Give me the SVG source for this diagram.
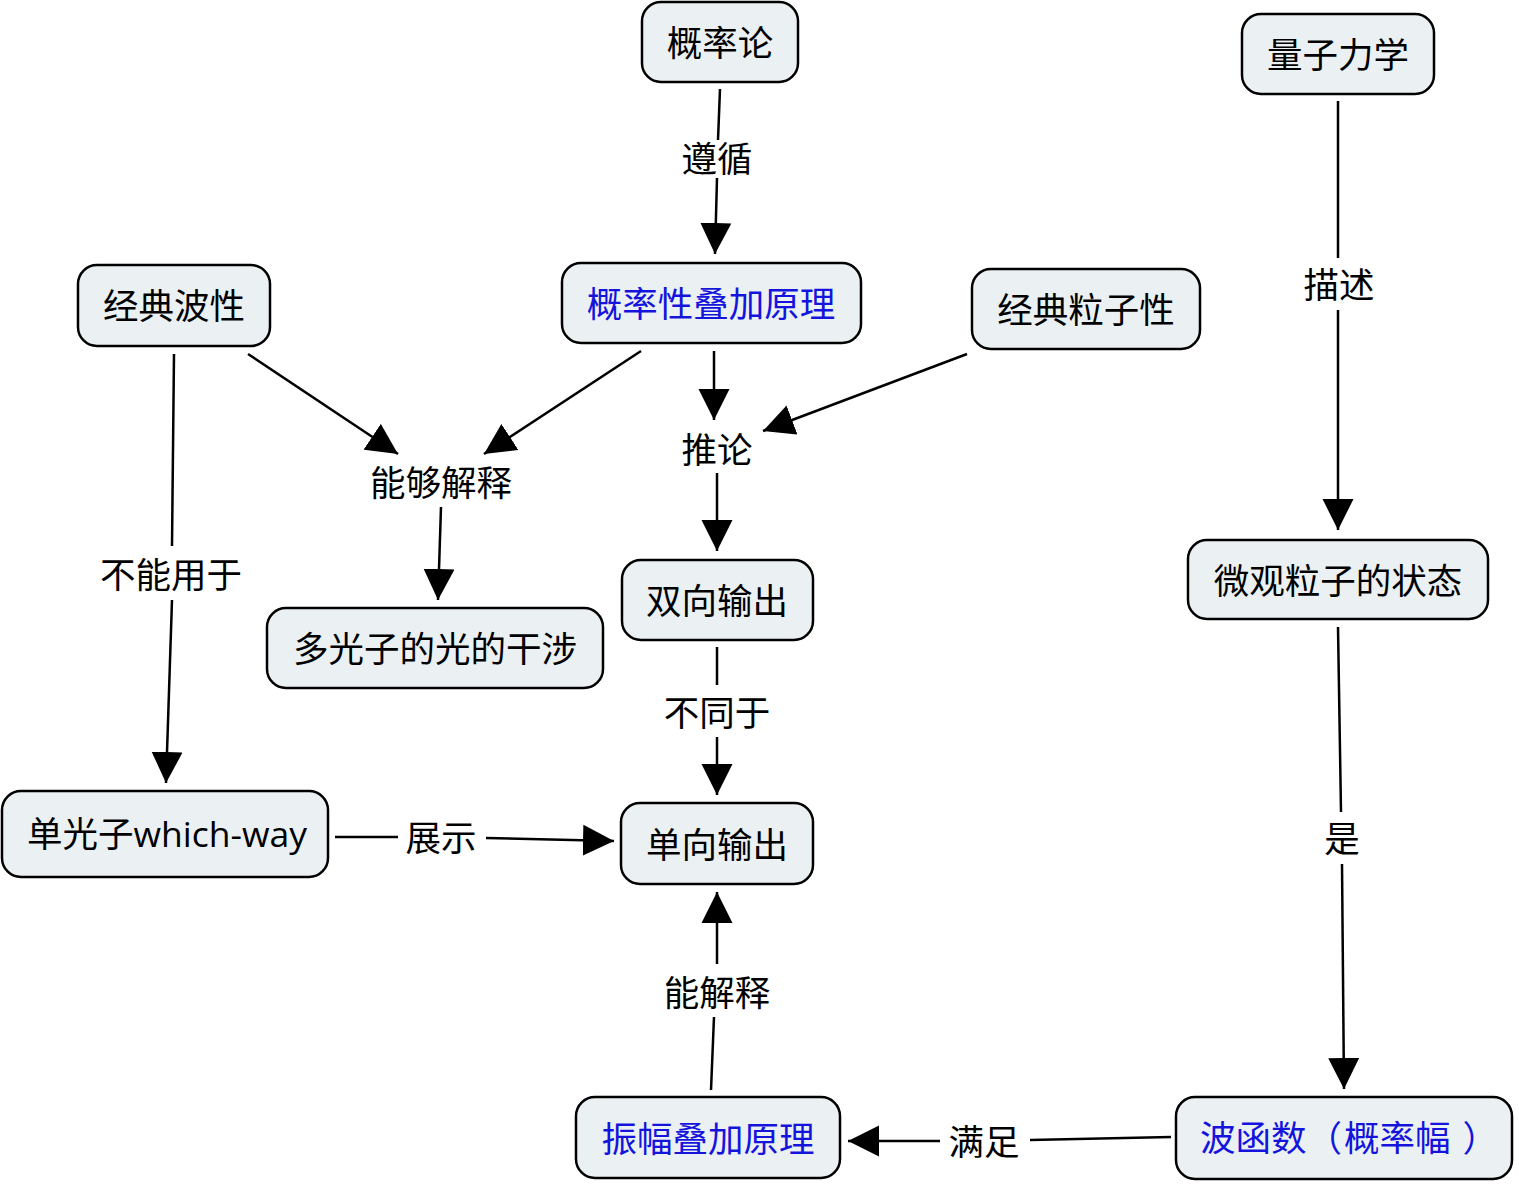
<svg xmlns="http://www.w3.org/2000/svg" width="1519" height="1186" viewBox="0 0 1519 1186">
<defs>
<style>
.n rect{fill:#ebf1f3;stroke:#000;stroke-width:2.5}
text{font-family:"Open Sans","Noto Sans CJK SC",sans-serif;font-size:35.5px;text-anchor:middle;dominant-baseline:central;fill:#000}
.b text{fill:#1414dc}
#edges line{stroke:#000;stroke-width:2.5;fill:none}
</style>
<marker id="ah" markerUnits="userSpaceOnUse" markerWidth="32" markerHeight="32" refX="31" refY="15.5" orient="auto" viewBox="0 0 32 31">
<path d="M0,0 L31,15.5 L0,31 Z" fill="#000"/>
</marker>
</defs>
<rect width="1519" height="1186" fill="#fff"/>
<g id="edges">
<line x1="720" y1="89" x2="718" y2="140"/>
<line x1="717" y1="178" x2="715" y2="254" marker-end="url(#ah)"/>
<text x="717" y="158">遵循</text>
<line x1="1338" y1="101" x2="1338" y2="258"/>
<line x1="1338" y1="310" x2="1338" y2="530" marker-end="url(#ah)"/>
<text x="1339" y="284">描述</text>
<line x1="248" y1="354" x2="398" y2="454" marker-end="url(#ah)"/>
<line x1="641" y1="351" x2="484" y2="454" marker-end="url(#ah)"/>
<text x="441" y="482">能够解释</text>
<line x1="441" y1="507" x2="438" y2="600" marker-end="url(#ah)"/>
<line x1="714" y1="351" x2="714" y2="420" marker-end="url(#ah)"/>
<line x1="967" y1="354" x2="763" y2="431" marker-end="url(#ah)"/>
<text x="717" y="449">推论</text>
<line x1="717" y1="473" x2="717" y2="551" marker-end="url(#ah)"/>
<line x1="174" y1="354" x2="172" y2="546"/>
<line x1="172" y1="600" x2="166" y2="783" marker-end="url(#ah)"/>
<text x="171" y="574">不能用于</text>
<line x1="717" y1="647" x2="717" y2="685"/>
<line x1="717" y1="737" x2="717" y2="795" marker-end="url(#ah)"/>
<text x="717" y="712">不同于</text>
<line x1="335" y1="837" x2="398" y2="837"/>
<line x1="486" y1="838" x2="614" y2="841" marker-end="url(#ah)"/>
<text x="441" y="837">展示</text>
<line x1="711" y1="1090" x2="714" y2="1017"/>
<line x1="717" y1="964" x2="717" y2="892" marker-end="url(#ah)"/>
<text x="717" y="992">能解释</text>
<line x1="1338" y1="627" x2="1341" y2="812"/>
<line x1="1342" y1="864" x2="1344" y2="1089" marker-end="url(#ah)"/>
<text x="1342" y="838">是</text>
<line x1="1171" y1="1137" x2="1030" y2="1140"/>
<line x1="940" y1="1141" x2="848" y2="1141" marker-end="url(#ah)"/>
<text x="984" y="1141">满足</text>
</g>
<g id="n1" class="n"><rect x="642" y="2" width="156" height="80" rx="19"/><text x="720" y="42">概率论</text></g>
<g id="n2" class="n"><rect x="1242" y="14" width="192" height="80" rx="19"/><text x="1338" y="54">量子力学</text></g>
<g id="n3" class="n"><rect x="78" y="265" width="192" height="81" rx="19"/><text x="174" y="305">经典波性</text></g>
<g id="n4" class="n b"><rect x="562" y="263" width="299" height="80" rx="19"/><text x="711" y="303">概率性叠加原理</text></g>
<g id="n5" class="n"><rect x="972" y="269" width="228" height="80" rx="19"/><text x="1086" y="309">经典粒子性</text></g>
<g id="n6" class="n"><rect x="1188" y="540" width="300" height="79" rx="19"/><text x="1338" y="580">微观粒子的状态</text></g>
<g id="n7" class="n"><rect x="622" y="560" width="191" height="80" rx="19"/><text x="717" y="600">双向输出</text></g>
<g id="n8" class="n"><rect x="267" y="608" width="336" height="80" rx="19"/><text x="435" y="648">多光子的光的干涉</text></g>
<g id="n9" class="n"><rect x="2" y="791" width="326" height="86" rx="19"/><text x="167" y="833">单光子which-way</text></g>
<g id="n10" class="n"><rect x="621" y="803" width="192" height="81" rx="19"/><text x="717" y="844">单向输出</text></g>
<g id="n11" class="n b"><rect x="576" y="1097" width="264" height="81" rx="19"/><text x="708" y="1138">振幅叠加原理</text></g>
<g id="n12" class="n b"><rect x="1176" y="1097" width="336" height="82" rx="19"/><text x="1200" y="1137" style="text-anchor:start">波函数（<tspan dx="2">概率幅</tspan><tspan dx="12">）</tspan></text></g>
</svg>
